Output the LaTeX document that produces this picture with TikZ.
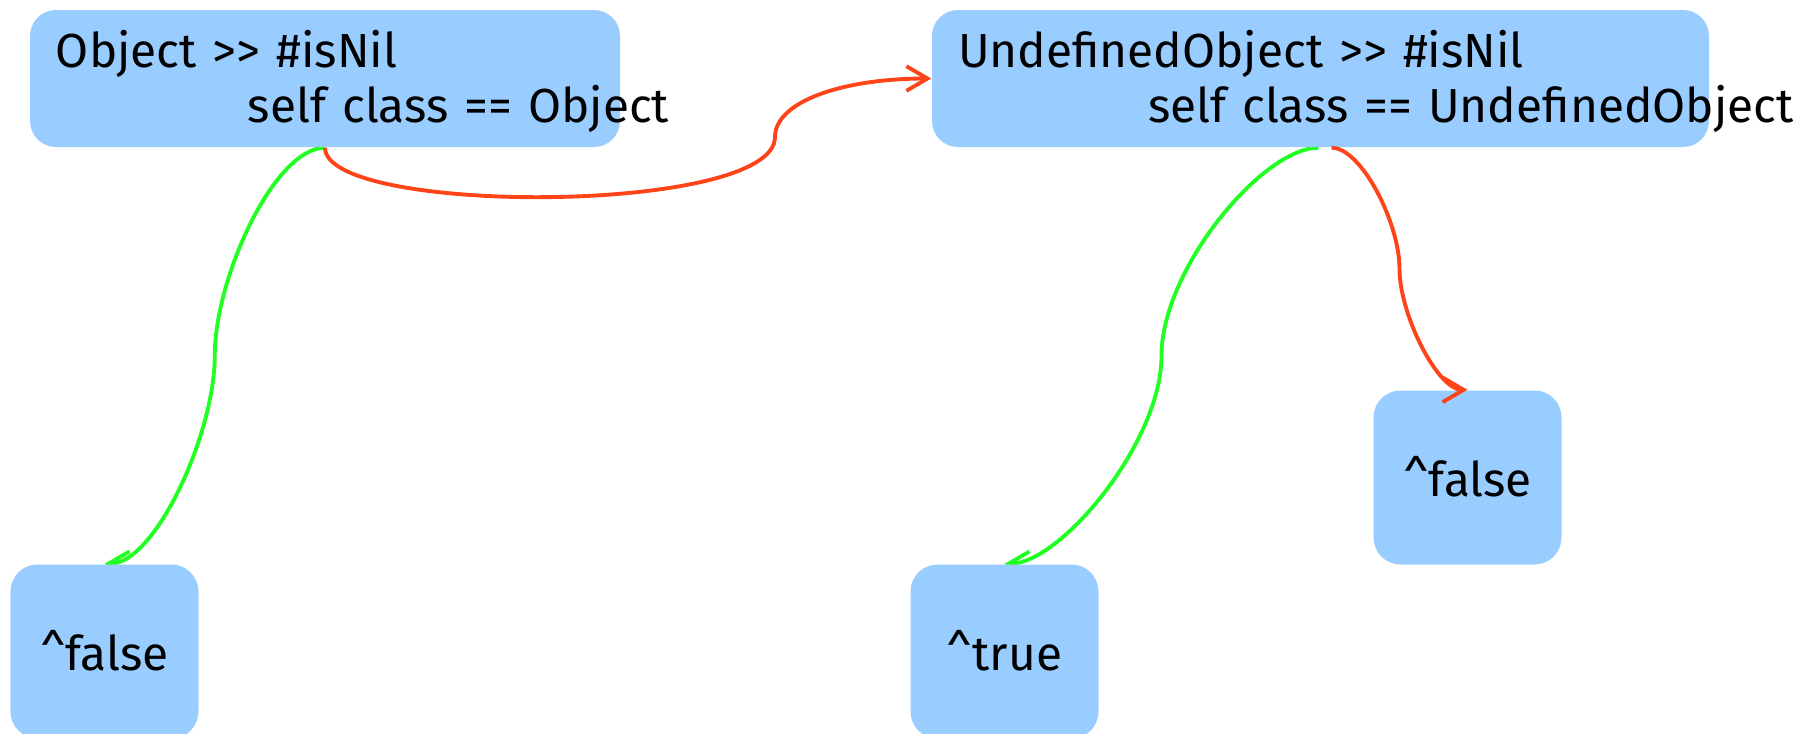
\documentclass[tikz,border=0pt]{standalone}
\usepackage{fontspec}
\setmainfont{Fira Sans}
\usepackage{tikz}
\usetikzlibrary{arrows.meta}
\usetikzlibrary{positioning,calc,backgrounds}

\definecolor{boxblue}{HTML}{99CCFF}
\definecolor{truegreen}{HTML}{22FF22}
\definecolor{falsered}{HTML}{FF4419}

\tikzset{
  method/.style={fill=boxblue, rounded corners=0.26cm, inner xsep=0.26cm, inner ysep=0pt,
    align=left, text height=0.57cm, text depth=0.80cm, font=\fontsize{13.6}{15.9}\selectfont},
  result/.style={fill=boxblue, rounded corners=0.27cm, minimum width=1.88cm, minimum height=1.74cm,
    text height=0.37cm, text depth=0pt, font=\fontsize{13.6}{15.9}\selectfont},
  trueflow/.style={draw=truegreen, line width=1.1pt, -{Straight Barb[length=6pt,width=7pt]}},
  falseflow/.style={draw=falsered, line width=1.1pt, -{Straight Barb[length=6pt,width=7pt]}},
  leave/.style={out looseness=0.55, in looseness=0.85},
  arrive/.style={out looseness=0.85, in looseness=0.55}
}

\begin{document}
\begin{tikzpicture}
			\useasboundingbox (0,0) rectangle (18.07,-7.33);
			% methods
			\node[method, text width=5.38cm] (objNil) at (3.25,-0.785)
				{\mbox{Object >{}> \#isNil}\\\mbox{\hspace*{1.92cm}self class == Object}};
			\node[method, text width=7.25cm] (undNil) at (13.205,-0.785)
				{\mbox{UndefinedObject >{}> \#isNil}\\\mbox{\hspace*{1.90cm}self class == UndefinedObject}};
			% answers
			\node[result] (falseL) at (1.045,-6.515) {\textasciicircum false};
			\node[result] (trueR) at (10.045,-6.515) {\textasciicircum true};
			\node[result] (falseR) at (14.675,-4.775) {\textasciicircum false};
			% branches
			\begin{scope}[on background layer]
				\draw[trueflow] (objNil.south) to[out=180,in=90,leave] ($(objNil.south)!0.5!(falseL.north)$)
					to[out=-90,in=0,arrive] (falseL.north);
				\draw[trueflow] ([xshift=-0.02cm]undNil.south) to[out=180,in=90,leave] ($([xshift=-0.02cm]undNil.south)!0.5!(trueR.north)$)
					to[out=-90,in=0,arrive] (trueR.north);
			\end{scope}
			\coordinate (redBend) at (7.75,-1.37);
			\draw[falseflow] (objNil.south) .. controls +(0,-0.68) and +(0,-0.78) .. (redBend)
				.. controls +(0,0.35) and +(-0.9,0) .. (undNil.west);
			\draw[falseflow] ([xshift=0.11cm]undNil.south) to[out=0,in=90,leave] ($([xshift=0.11cm]undNil.south)!0.5!(falseR.north)$)
				to[out=-90,in=180,arrive] (falseR.north);
		\end{tikzpicture}
\end{document}
